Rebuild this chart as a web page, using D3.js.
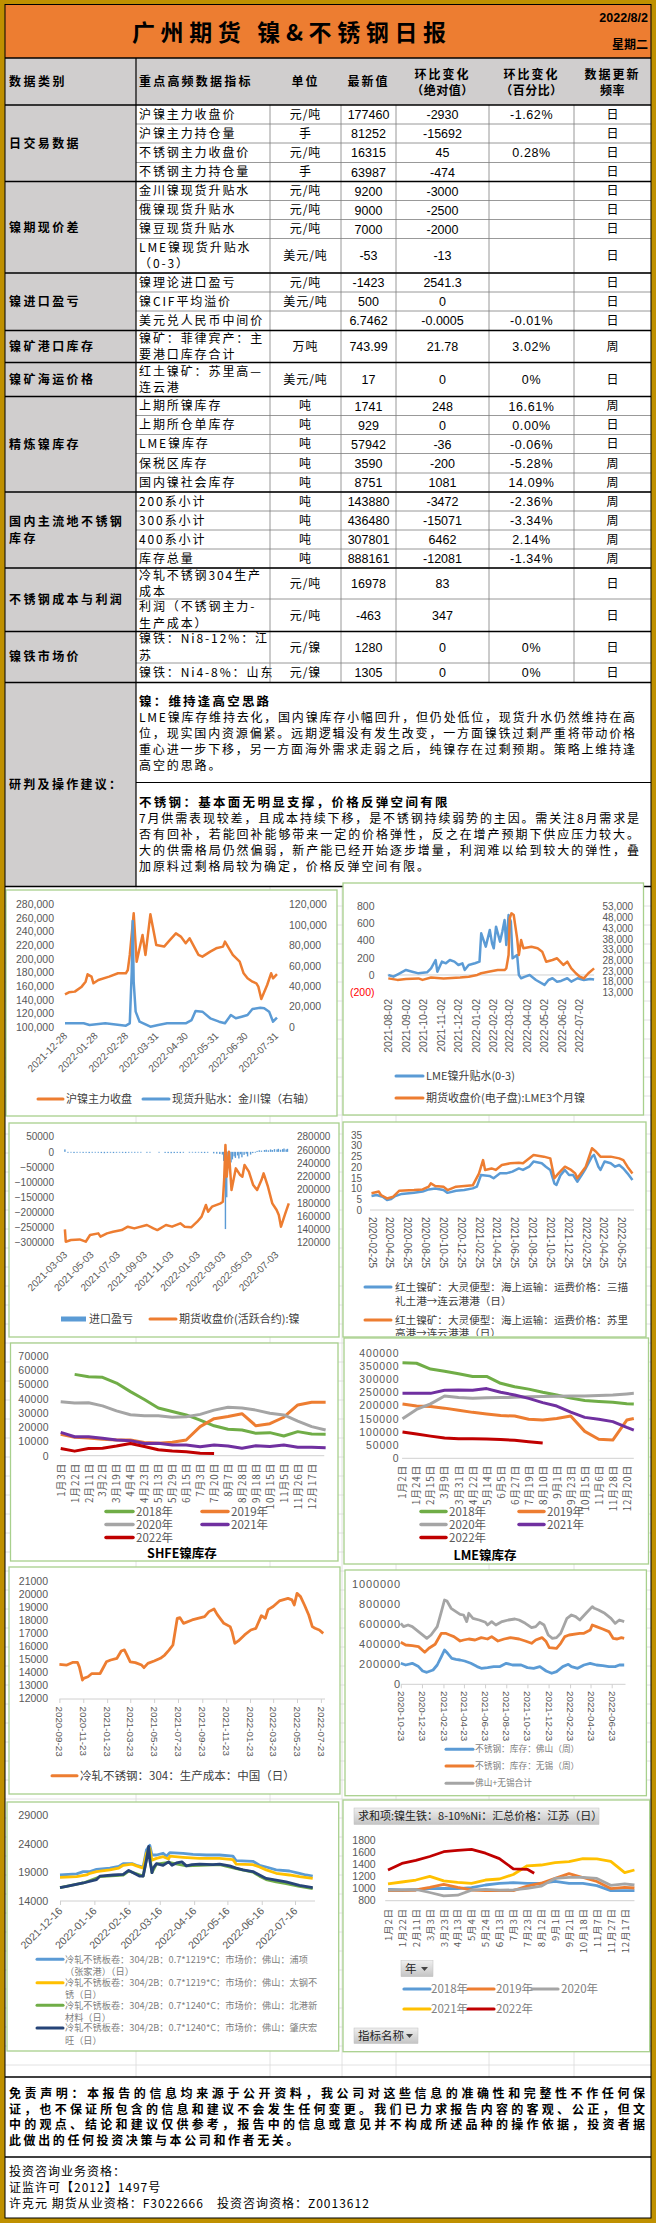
<!DOCTYPE html>
<html><head><meta charset="utf-8">
<script src="https://cdn.jsdelivr.net/npm/d3@7/dist/d3.min.js"></script>
<style>html,body{margin:0;padding:0;background:#fff}svg{display:block}</style>
</head><body>
<svg id="c" width="656" height="2223" xmlns="http://www.w3.org/2000/svg"></svg>
<script>
// ===================== DATA =====================
const reportTitle = "广州期货  镍&不锈钢日报";
const reportDate = "2022/8/2", reportWeekday = "星期二";
const tblHead = [["数据类别"],["重点高频数据指标"],["单位"],["最新值"],["环比变化","（绝对值）"],["环比变化","（百分比）"],["数据更新","频率"]];
const tblGroupNames = [["日交易数据"],["镍期现价差"],["镍进口盈亏"],["镍矿港口库存"],["镍矿海运价格"],["精炼镍库存"],["国内主流地不锈钢","库存"],["不锈钢成本与利润"],["镍铁市场价"]];
const tblGroupSize = [4,4,3,1,1,5,4,2,2];
const tblNames = [["沪镍主力收盘价"],["沪镍主力持仓量"],["不锈钢主力收盘价"],["不锈钢主力持仓量"],["金川镍现货升贴水"],["俄镍现货升贴水"],["镍豆现货升贴水"],["LME镍现货升贴水","（0-3）"],["镍理论进口盈亏"],["镍CIF平均溢价"],["美元兑人民币中间价"],["镍矿：菲律宾产：主","要港口库存合计"],["红土镍矿：苏里高—","连云港"],["上期所镍库存"],["上期所仓单库存"],["LME镍库存"],["保税区库存"],["国内镍社会库存"],["200系小计"],["300系小计"],["400系小计"],["库存总量"],["冷轧不锈钢304生产","成本"],["利润（不锈钢主力-","生产成本）"],["镍铁：Ni8-12%：江","苏"],["镍铁：Ni4-8%：山东"]];
const tblUnits = ["元/吨","手","元/吨","手","元/吨","元/吨","元/吨","美元/吨","元/吨","美元/吨","","万吨","美元/吨","吨","吨","吨","吨","吨","吨","吨","吨","吨","元/吨","元/吨","元/镍","元/镍"];
const tblLatest = ["177460","81252","16315","63987","9200","9000","7000","-53","-1423","500","6.7462","743.99","17","1741","929","57942","3590","8751","143880","436480","307801","888161","16978","-463","1280","1305"];
const tblAbs = ["-2930","-15692","45","-474","-3000","-2500","-2000","-13","2541.3","0","-0.0005","21.78","0","248","0","-36","-200","1081","-3472","-15071","6462","-12081","83","347","0","0"];
const tblPct = ["-1.62%","","0.28%","","","","","","","","-0.01%","3.02%","0%","16.61%","0.00%","-0.06%","-5.28%","14.09%","-2.36%","-3.34%","2.14%","-1.34%","","","0%","0%"];
const tblFreq = ["日","日","日","日","日","日","日","日","日","日","日","周","日","周","日","日","周","周","周","周","周","周","日","日","日","日"];

const adviceLabel = "研判及操作建议：";
const niTitle = "镍：维持逢高空思路";
const niLines = ["LME镍库存维持去化，国内镍库存小幅回升，但仍处低位，现货升水仍然维持在高",
 "位，现实国内资源偏紧。远期逻辑没有发生改变，一方面镍铁过剩严重将带动价格",
 "重心进一步下移，另一方面海外需求走弱之后，纯镍存在过剩预期。策略上维持逢",
 "高空的思路。"];
const ssTitle = "不锈钢：基本面无明显支撑，价格反弹空间有限";
const ssLines = ["7月供需表现较差，且成本持续下移，是不锈钢持续弱势的主因。需关注8月需求是",
 "否有回补，若能回补能够带来一定的价格弹性，反之在增产预期下供应压力较大。",
 "大的供需格局仍然偏弱，新产能已经开始逐步增量，利润难以给到较大的弹性，叠",
 "加原料过剩格局较为确定，价格反弹空间有限。"];

// Chart 1
const c1Ticks = ["2021-12-28","2022-01-28","2022-02-28","2022-03-31","2022-04-30","2022-05-31","2022-06-30","2022-07-31"];
const c1Price = [["2021-12-28",148000],["2022-01-01",150900],["2022-01-07",151900],["2022-01-14",159200],["2022-01-18",166500],["2022-01-20",177300],["2022-01-24",173900],["2022-01-26",164100],["2022-01-31",169000],["2022-02-11",173900],["2022-02-20",178800],["2022-02-28",178800],["2022-03-02",183600],["2022-03-04",205700],["2022-03-08",266800],["2022-03-11",195900],["2022-03-17",235000],["2022-03-20",205700],["2022-03-25",265300],["2022-03-31",220300],["2022-04-08",218000],["2022-04-14",227700],["2022-04-20",237400],["2022-04-25",232600],["2022-04-30",222800],["2022-05-04",230100],["2022-05-13",205700],["2022-05-17",203200],["2022-05-25",210500],["2022-05-31",215400],["2022-06-07",217900],["2022-06-09",225200],["2022-06-17",205700],["2022-06-24",195900],["2022-06-28",178800],["2022-07-02",171400],["2022-07-07",166500],["2022-07-11",164100],["2022-07-13",159200],["2022-07-16",141100],["2022-07-22",161600],["2022-07-26",178800],["2022-07-28",171400],["2022-08-01",177460]];
const c1Spot = [["2021-12-28",3600],["2022-01-16",3600],["2022-01-22",2000],["2022-02-07",3600],["2022-02-28",1300],["2022-03-04",3600],["2022-03-06",54000],["2022-03-07",103700],["2022-03-08",44000],["2022-03-10",15000],["2022-03-14",5200],["2022-03-25",300],["2022-04-02",2000],["2022-04-11",3600],["2022-04-30",3600],["2022-05-06",6800],["2022-05-10",15700],["2022-05-17",15000],["2022-05-25",8500],["2022-06-03",5200],["2022-06-09",3600],["2022-06-15",11700],["2022-06-20",8500],["2022-06-26",10100],["2022-07-02",11700],["2022-07-07",17600],["2022-07-15",18900],["2022-07-19",18300],["2022-07-24",15000],["2022-07-28",5200],["2022-08-01",9200]];

// Chart 2
const c2Ticks = ["2021-08-02","2021-09-02","2021-10-02","2021-11-02","2021-12-02","2022-01-02","2022-02-02","2022-03-02","2022-04-02","2022-05-02","2022-06-02","2022-07-02"];
const c2Spread = [["2021-08-02",0],["2021-08-11",-19],["2021-08-22",19],["2021-09-02",58],["2021-09-13",38],["2021-09-24",19],["2021-10-09",31],["2021-10-16",77],["2021-10-24",173],["2021-10-27",38],["2021-11-04",154],["2021-11-11",135],["2021-11-18",173],["2021-11-26",154],["2021-12-03",115],["2021-12-10",135],["2021-12-14",58],["2021-12-21",115],["2022-01-01",135],["2022-01-09",154],["2022-01-12",481],["2022-01-20",327],["2022-01-27",519],["2022-01-31",365],["2022-02-03",308],["2022-02-07",558],["2022-02-14",385],["2022-02-18",500],["2022-02-22",635],["2022-02-25",346],["2022-03-01",692],["2022-03-05",615],["2022-03-08",192],["2022-03-16",231],["2022-03-19",0],["2022-03-23",-38],["2022-03-30",-19],["2022-04-07",0],["2022-04-18",-58],["2022-05-03",-115],["2022-05-10",-58],["2022-05-17",-38],["2022-05-25",-77],["2022-06-01",-69],["2022-06-12",-38],["2022-06-19",-77],["2022-06-30",-38],["2022-07-11",-58],["2022-07-22",-46],["2022-07-29",-53]];
const c2Lme3m = [["2021-08-02",19500],["2021-08-18",18800],["2021-09-02",19200],["2021-09-24",19500],["2021-10-01",18800],["2021-10-16",19900],["2021-11-07",19500],["2021-12-06",19900],["2021-12-21",20300],["2022-01-05",21100],["2022-01-12",21900],["2022-01-27",22700],["2022-02-10",23400],["2022-02-22",23400],["2022-02-25",24200],["2022-03-01",30400],["2022-03-03",47600],["2022-03-06",49900],["2022-03-10",49100],["2022-03-16",38200],["2022-03-19",30400],["2022-03-23",37400],["2022-03-27",33600],["2022-04-10",34300],["2022-04-21",33600],["2022-04-29",32000],["2022-05-06",27300],["2022-05-17",28100],["2022-05-25",28900],["2022-06-05",25800],["2022-06-12",27300],["2022-06-19",24200],["2022-06-27",21900],["2022-07-04",20300],["2022-07-11",19500],["2022-07-19",21900],["2022-07-29",24200]];

// Chart 3
const c3Ticks = ["2021-03-03","2021-05-03","2021-07-03","2021-09-03","2021-11-03","2022-01-03","2022-03-03","2022-05-03","2022-07-03"];
const c3Import = [["2021-03-03",8000],["2021-03-10",-3000],["2021-03-17",-2000],["2021-03-24",-4000],["2021-03-31",-3000],["2021-04-07",-2500],["2021-04-14",-3500],["2021-04-21",-3000],["2021-04-28",-4000],["2021-05-05",-3000],["2021-05-12",-2000],["2021-05-19",-3000],["2021-05-26",-4000],["2021-06-02",-4500],["2021-06-09",-3500],["2021-06-16",-3000],["2021-06-23",-4000],["2021-06-30",-3000],["2021-07-07",-2500],["2021-07-14",-3500],["2021-07-21",-4000],["2021-07-28",-3000],["2021-08-04",-2000],["2021-08-11",-3000],["2021-08-18",-2500],["2021-08-25",-1500],["2021-09-08",-3000],["2021-09-15",-2000],["2021-10-06",-1500],["2021-10-20",-3500],["2021-10-27",-4000],["2021-11-03",-4500],["2021-11-10",-4000],["2021-11-17",-3500],["2021-11-24",-4000],["2021-12-01",-3000],["2021-12-15",-2000],["2021-12-22",-2500],["2021-12-29",-3000],["2022-01-05",-2000],["2022-01-12",-3500],["2022-01-19",-4000],["2022-01-26",-3000],["2022-02-09",-5000],["2022-02-16",-6000],["2022-02-23",-7000],["2022-03-01",-9000],["2022-03-04",-30000],["2022-03-07",-80000],["2022-03-08",-255000],["2022-03-09",-50000],["2022-03-11",-150000],["2022-03-14",-20000],["2022-03-17",-10000],["2022-03-21",-35000],["2022-03-24",-25000],["2022-03-28",-15000],["2022-03-31",-20000],["2022-04-05",-12000],["2022-04-08",-22000],["2022-04-12",-8000],["2022-04-15",-18000],["2022-04-20",-10000],["2022-04-25",-6000],["2022-04-28",-15000],["2022-05-05",-9000],["2022-05-10",-4000],["2022-05-16",-2000],["2022-05-20",3000],["2022-05-25",5000],["2022-05-30",4000],["2022-06-06",6000],["2022-06-10",7000],["2022-06-15",5000],["2022-06-20",8000],["2022-06-24",6000],["2022-06-29",9000],["2022-07-05",8000],["2022-07-08",10000],["2022-07-13",7000],["2022-07-18",9000],["2022-07-21",11000],["2022-07-26",8000],["2022-07-29",10000]];
const c3Price = [["2021-03-03",140100],["2021-03-05",121500],["2021-03-17",124000],["2021-04-06",125000],["2021-04-20",121500],["2021-04-30",131600],["2021-05-19",134100],["2021-05-24",129100],["2021-06-08",134100],["2021-06-22",136600],["2021-07-12",139100],["2021-07-26",144200],["2021-08-10",141600],["2021-09-08",146700],["2021-09-23",141600],["2021-10-02",139100],["2021-10-22",146700],["2021-11-05",144200],["2021-11-24",149200],["2021-12-04",144200],["2021-12-19",143200],["2022-01-02",151700],["2022-01-12",159300],["2022-01-22",176900],["2022-01-27",166800],["2022-02-05",174400],["2022-02-25",179400],["2022-03-02",181900],["2022-03-05",214600],["2022-03-08",267400],["2022-03-11",219600],["2022-03-16",257400],["2022-03-22",199500],["2022-04-01",232200],["2022-04-11",222100],["2022-04-16",219600],["2022-04-21",237200],["2022-05-01",227200],["2022-05-11",207000],["2022-05-20",199500],["2022-05-30",214600],["2022-06-04",224700],["2022-06-14",204500],["2022-06-24",179400],["2022-07-04",169300],["2022-07-09",161800],["2022-07-14",144200],["2022-07-24",164300],["2022-08-01",179400]];

// Chart 4
const c4Ticks = ["2020-02-25","2020-04-25","2020-06-25","2020-08-25","2020-10-25","2020-12-25","2021-02-25","2021-04-25","2021-06-25","2021-08-25","2021-10-25","2021-12-25","2022-02-25","2022-04-25","2022-06-25"];
const c4Sanmu = [["2020-02-25",6.5],["2020-03-13",7.0],["2020-04-03",6.2],["2020-04-18",4.7],["2020-05-02",5.1],["2020-05-16",6.5],["2020-06-07",7.5],["2020-07-19",8.1],["2020-08-17",8.6],["2020-09-07",9.6],["2020-09-29",10.0],["2020-10-27",9.3],["2020-11-10",8.0],["2020-12-09",9.0],["2021-01-06",9.3],["2021-02-04",10.1],["2021-02-18",10.9],["2021-03-04",16.3],["2021-04-02",15.9],["2021-04-16",14.8],["2021-05-08",17.1],["2021-05-29",17.1],["2021-06-19",17.9],["2021-07-11",19.4],["2021-07-25",18.7],["2021-08-15",20.2],["2021-08-30",22.6],["2021-09-27",21.8],["2021-10-11",20.2],["2021-10-26",18.7],["2021-11-09",12.4],["2021-11-16",11.7],["2021-11-30",16.3],["2021-12-15",18.7],["2021-12-29",16.3],["2022-01-12",16.3],["2022-01-26",13.2],["2022-02-10",16.3],["2022-02-21",18.7],["2022-03-17",24.9],["2022-03-24",25.7],["2022-04-08",20.2],["2022-04-15",18.7],["2022-04-29",22.6],["2022-05-20",21.8],["2022-06-04",20.2],["2022-06-18",21.0],["2022-07-02",19.4],["2022-07-16",17.1],["2022-08-02",14.0]];
const c4Surigao = [["2020-02-25",7.8],["2020-03-21",8.6],["2020-03-28",7.0],["2020-04-18",5.4],["2020-05-09",6.2],["2020-05-30",9.0],["2020-07-19",9.3],["2020-08-17",9.6],["2020-09-07",10.9],["2020-09-14",12.4],["2020-09-29",11.2],["2020-10-27",10.9],["2020-11-10",9.3],["2020-12-09",10.9],["2021-02-04",11.5],["2021-02-25",17.0],["2021-03-11",23.3],["2021-03-18",18.7],["2021-04-09",19.4],["2021-04-23",18.7],["2021-05-14",21.0],["2021-06-12",21.8],["2021-07-11",22.0],["2021-07-25",21.8],["2021-08-30",25.7],["2021-10-04",24.9],["2021-10-26",24.1],["2021-11-09",14.8],["2021-11-23",17.1],["2021-12-15",20.2],["2022-01-05",18.7],["2022-01-19",17.1],["2022-01-26",14.8],["2022-02-24",20.2],["2022-03-17",28.8],["2022-03-31",27.2],["2022-04-15",24.9],["2022-05-20",24.9],["2022-06-18",24.1],["2022-07-02",23.3],["2022-07-16",20.2],["2022-08-02",17.0]];
const c4Legend = [["红土镍矿：大灵便型：海上运输：运费价格：三描","礼土港→连云港港（日）"],["红土镍矿：大灵便型：海上运输：运费价格：苏里","高港→连云港港（日）"]];

// Chart 5 SHFE
const shfeCats = ["1月3日","1月22日","2月11日","3月2日","3月19日","4月4日","4月23日","5月13日","5月29日","6月15日","7月3日","7月20日","8月7日","8月28日","9月18日","10月15日","11月5日","11月26日","12月17日"];
const shfeIdx = [0,1,2,3,4,5,6,7,8,9,10,11,12,13,14,15,16,17,18,19];
const shfe2018 = [null,57100,55500,55000,51000,45000,39500,33500,31000,28600,25000,21000,18600,18000,15700,16200,13800,16900,15200,15000];
const shfe2019 = [15000,13000,12500,11500,11000,11000,9200,8700,9400,11000,20400,26000,27500,29500,21000,22500,27000,35600,37500,37500];
const shfe2020 = [37900,37000,37200,35000,31500,28800,28000,28000,27000,27300,29000,32000,34000,33500,32000,29800,28600,24300,20400,18000];
const shfe2021 = [16400,13300,13300,12200,11000,10500,8500,8700,7500,7500,6300,7500,6800,5200,7000,6500,7500,5900,5900,5500];
const shfe2022 = [5000,3200,5000,5300,6800,8600,6500,4200,3300,2800,1800,1600];

// Chart 6 LME
const lmeCats = ["1月2日","1月24日","2月15日","3月9日","3月31日","4月22日","5月14日","6月5日","6月27日","7月19日","8月10日","9月1日","9月23日","10月15日","11月6日","11月28日","12月20日"];
const lmeIdx = [0,1,2,3,4,5,6,7,8,9,10,11,12,13,14,15,16,16.5];
const lme2018 = [362000,360000,338000,330000,320000,310000,310000,284000,271000,262000,250000,240000,228000,219000,215000,212000,207000,206000];
const lme2019 = [206000,198000,196000,190000,182000,174000,168000,162000,160000,148000,145000,151000,160000,102000,72000,69000,145000,151000];
const lme2020 = [150000,185000,206000,236000,230000,227000,229000,230000,231000,233000,234000,235000,236000,236000,238000,240000,244000,246000];
const lme2021 = [246000,246000,246000,258000,259000,258000,264000,250000,240000,227000,211000,198000,175000,155000,148000,139000,117000,107000];
const lme2022 = [100000,92000,84000,77000,74000,74000,73000,71000,68000,63000,58000];

// Chart 7
const c7Ticks = ["2020-09-23","2020-11-23","2021-01-23","2021-03-23","2021-05-23","2021-07-23","2021-09-23","2021-11-23","2022-01-23","2022-03-23","2022-05-23","2022-07-23"];
const c7Cost = [["2020-09-23",14600],["2020-10-12",14550],["2020-10-28",14760],["2020-11-08",14760],["2020-11-13",14400],["2020-11-21",13400],["2020-11-24",13530],["2020-12-05",13650],["2020-12-15",13900],["2021-01-05",13900],["2021-01-14",14400],["2021-01-21",14800],["2021-02-01",14940],["2021-02-17",15070],["2021-02-28",15630],["2021-03-08",15710],["2021-03-15",15300],["2021-03-23",14800],["2021-04-05",14740],["2021-04-21",14550],["2021-04-27",14350],["2021-05-07",14680],["2021-05-23",14860],["2021-06-08",15070],["2021-06-19",15320],["2021-06-30",15700],["2021-07-10",16090],["2021-07-21",18130],["2021-07-28",18190],["2021-08-06",17750],["2021-08-28",18010],["2021-09-19",18190],["2021-09-29",18270],["2021-10-10",18650],["2021-10-23",18850],["2021-10-31",18440],["2021-11-17",17750],["2021-12-03",17500],["2021-12-08",17110],["2021-12-15",16220],["2021-12-24",16400],["2022-01-09",16860],["2022-01-25",17240],["2022-02-07",17370],["2022-02-21",18340],["2022-03-03",18140],["2022-03-10",18800],["2022-03-23",19040],["2022-04-08",19470],["2022-04-30",19670],["2022-05-10",19550],["2022-05-16",19160],["2022-05-23",20050],["2022-06-01",19800],["2022-06-11",19160],["2022-06-22",18390],["2022-07-01",17500],["2022-07-08",17370],["2022-07-19",17240],["2022-07-29",16978]];

// Chart 8
const c8Ticks = ["2020-10-23","2020-12-23","2021-02-23","2021-04-23","2021-06-23","2021-08-23","2021-10-23","2021-12-23","2022-02-23","2022-04-23","2022-06-23"];
const c8Foshan = [["2020-10-23",210000],["2020-11-06",193000],["2020-11-25",210000],["2020-12-13",177000],["2020-12-25",133000],["2021-01-06",120000],["2021-01-24",143000],["2021-02-05",193000],["2021-02-17",277000],["2021-02-26",343000],["2021-03-07",310000],["2021-03-19",260000],["2021-03-31",250000],["2021-04-12",243000],["2021-04-25",233000],["2021-05-13",210000],["2021-05-31",177000],["2021-06-12",160000],["2021-06-30",167000],["2021-07-18",177000],["2021-08-05",177000],["2021-08-23",210000],["2021-09-10",193000],["2021-10-05",193000],["2021-10-23",167000],["2021-11-10",160000],["2021-11-28",177000],["2021-12-16",133000],["2022-01-01",110000],["2022-01-15",127000],["2022-02-02",177000],["2022-02-18",200000],["2022-02-27",177000],["2022-03-17",160000],["2022-04-04",193000],["2022-04-22",210000],["2022-05-10",193000],["2022-05-28",187000],["2022-06-15",177000],["2022-07-03",177000],["2022-07-15",193000],["2022-07-29",193000]];
const c8Wuxi = [["2020-10-23",420000],["2020-11-06",393000],["2020-11-25",387000],["2020-12-13",377000],["2020-12-31",320000],["2021-01-12",360000],["2021-01-30",400000],["2021-02-17",510000],["2021-03-01",510000],["2021-03-13",493000],["2021-03-25",477000],["2021-04-12",433000],["2021-04-22",443000],["2021-05-07",453000],["2021-05-25",443000],["2021-06-12",467000],["2021-06-30",453000],["2021-07-12",477000],["2021-07-30",433000],["2021-08-17",453000],["2021-09-04",467000],["2021-09-29",453000],["2021-10-17",433000],["2021-11-04",410000],["2021-11-16",443000],["2021-12-04",467000],["2021-12-16",427000],["2021-12-25",367000],["2022-01-15",360000],["2022-01-27",410000],["2022-02-08",477000],["2022-02-20",493000],["2022-03-23",510000],["2022-04-04",510000],["2022-04-22",543000],["2022-04-28",593000],["2022-05-10",577000],["2022-05-28",553000],["2022-06-15",527000],["2022-06-27",460000],["2022-07-09",453000],["2022-07-21",467000],["2022-07-29",460000]];
const c8Total = [["2020-10-23",610000],["2020-10-31",577000],["2020-11-13",593000],["2020-11-25",577000],["2020-12-13",527000],["2020-12-31",477000],["2021-01-06",460000],["2021-01-18",493000],["2021-02-05",577000],["2021-02-17",727000],["2021-02-26",843000],["2021-03-05",833000],["2021-03-17",760000],["2021-03-31",727000],["2021-04-12",700000],["2021-04-22",693000],["2021-05-01",627000],["2021-05-07",710000],["2021-05-19",660000],["2021-06-06",643000],["2021-06-24",620000],["2021-06-30",593000],["2021-07-12",627000],["2021-07-24",593000],["2021-08-11",627000],["2021-08-29",643000],["2021-09-17",653000],["2021-09-29",643000],["2021-10-17",610000],["2021-11-04",567000],["2021-11-16",577000],["2021-11-28",620000],["2021-12-10",593000],["2021-12-22",493000],["2022-01-03",460000],["2022-01-15",467000],["2022-01-27",510000],["2022-02-14",660000],["2022-02-27",693000],["2022-03-11",677000],["2022-03-23",643000],["2022-04-10",710000],["2022-04-28",777000],["2022-05-04",760000],["2022-05-16",743000],["2022-06-03",710000],["2022-06-21",660000],["2022-07-03",610000],["2022-07-15",643000],["2022-07-29",627000]];
const c8Legend = ["不锈钢：库存：佛山（周）","不锈钢：库存：无锡（周）","佛山+无锡合计"];

// Chart 9
const c9Ticks = ["2021-12-16","2022-01-16","2022-02-16","2022-03-16","2022-04-16","2022-05-16","2022-06-16","2022-07-16"];
const c9Posco = [["2021-12-16",18500],["2021-12-31",18700],["2022-01-06",19100],["2022-01-12",19100],["2022-01-18",19500],["2022-01-30",19700],["2022-02-07",20000],["2022-02-11",20500],["2022-02-19",20500],["2022-02-23",20200],["2022-03-01",19900],["2022-03-04",22900],["2022-03-07",23700],["2022-03-09",22000],["2022-03-13",22000],["2022-03-19",22300],["2022-03-22",21800],["2022-03-25",22400],["2022-04-06",22300],["2022-04-15",22100],["2022-04-27",22000],["2022-05-09",22000],["2022-05-21",21800],["2022-05-24",21000],["2022-06-08",20900],["2022-06-14",20200],["2022-06-20",19900],["2022-06-29",19400],["2022-07-11",19200],["2022-07-20",18800],["2022-07-26",18500],["2022-08-01",18300]];
const c9Tisco = [["2021-12-16",18100],["2021-12-31",18200],["2022-01-09",18500],["2022-01-12",18800],["2022-01-18",19100],["2022-01-30",19400],["2022-02-07",19700],["2022-02-11",20200],["2022-02-19",20400],["2022-02-23",20100],["2022-03-01",19700],["2022-03-04",22300],["2022-03-07",23200],["2022-03-09",21100],["2022-03-13",21400],["2022-03-19",21700],["2022-03-24",21300],["2022-03-25",21800],["2022-04-06",21600],["2022-04-21",21400],["2022-05-09",21400],["2022-05-21",21200],["2022-05-24",20400],["2022-06-08",20300],["2022-06-14",19900],["2022-06-20",19400],["2022-06-29",18800],["2022-07-11",18500],["2022-07-20",18200],["2022-08-01",17900]];
const c9Beigang = [["2021-12-16",16300],["2022-01-06",17100],["2022-01-21",18200],["2022-02-11",18500],["2022-02-16",19200],["2022-03-01",18300],["2022-03-06",23300],["2022-03-09",18900],["2022-03-13",20400],["2022-03-24",20700],["2022-04-09",20100],["2022-05-09",20300],["2022-05-24",19600],["2022-06-08",19000],["2022-06-14",18300],["2022-06-20",17700],["2022-06-29",17300],["2022-07-08",17000],["2022-07-20",16500],["2022-08-01",16100]];
const c9Hongwang = [["2021-12-16",16300],["2021-12-22",16500],["2022-01-06",17100],["2022-01-18",17700],["2022-01-21",18300],["2022-02-02",18500],["2022-02-11",18600],["2022-02-16",19300],["2022-02-20",18900],["2022-02-26",18300],["2022-03-01",18300],["2022-03-04",21100],["2022-03-06",23500],["2022-03-07",21100],["2022-03-09",18900],["2022-03-10",19700],["2022-03-13",20500],["2022-03-19",20200],["2022-03-24",20800],["2022-03-27",20200],["2022-03-31",20600],["2022-04-05",20800],["2022-04-09",20100],["2022-04-14",20300],["2022-04-21",20400],["2022-05-03",20300],["2022-05-09",20400],["2022-05-18",20100],["2022-05-24",19700],["2022-05-30",19400],["2022-06-08",19100],["2022-06-14",18500],["2022-06-20",17900],["2022-06-29",17600],["2022-07-08",17300],["2022-07-20",16700],["2022-08-01",16300]];
const c9Legend = [["冷轧不锈板卷：304/2B：0.7*1219*C：市场价：佛山：浦项","（张家港）（日）"],["冷轧不锈板卷：304/2B：0.7*1219*C：市场价：佛山：太钢不","锈（日）"],["冷轧不锈板卷：304/2B：0.7*1240*C：市场价：佛山：北港新","材料（日）"],["冷轧不锈板卷：304/2B：0.7*1240*C：市场价：佛山：肇庆宏","旺（日）"]];

// Chart 10 NPI
const npiTitle = "求和项:镍生铁：8-10%Ni：汇总价格：江苏（日）";
const npiCats = ["1月2日","1月22日","2月11日","3月3日","3月23日","4月13日","5月4日","5月24日","6月13日","7月3日","7月23日","8月12日","9月1日","9月21日","10月18日","11月7日","11月27日","12月17日"];
const npiIdx = [0,1,2,3,4,5,6,7,8,9,10,11,12,13,14,15,16,17,17.7];
const npi2018 = [978,970,967,990,994,990,1005,1050,1078,1089,1078,1078,1110,1078,1078,1040,956,956,956];
const npi2019 = [956,956,967,1010,1060,1010,967,956,956,956,1030,1080,1160,1240,1175,1110,990,1011,1000];
const npi2020 = [967,967,975,925,870,880,965,978,965,967,994,1030,1160,1178,1178,1160,1045,1070,1050];
const npi2021 = [1067,1100,1133,1195,1120,1095,1078,1133,1150,1225,1370,1383,1422,1440,1490,1485,1445,1256,1300];
const npi2022 = [1300,1410,1460,1525,1605,1628,1644,1580,1490,1320,1311,1245];
const npi2022Idx = [0,1,2,3,4,5,6,7,8,9,10,10.5];

const disclaimer = ["免责声明：本报告的信息均来源于公开资料，我公司对这些信息的准确性和完整性不作任何保",
 "证，也不保证所包含的信息和建议不会发生任何变更。我们已力求报告内容的客观、公正，但文",
 "中的观点、结论和建议仅供参考，报告中的信息或意见并不构成所述品种的操作依据，投资者据",
 "此做出的任何投资决策与本公司和作者无关。"];
const license = ["投资咨询业务资格：","证监许可【2012】1497号","许克元 期货从业资格：F3022666　投资咨询资格：Z0013612"];

// ===================== DRAW =====================
const CJK = "'Noto Sans CJK SC','Noto Sans CJK JP',sans-serif";
const LAT = "'Liberation Sans',Arial,sans-serif";
const AXC = "#595959", LEGC = "#404040";
const BLUE="#5b9bd5",ORANGE="#ed7d31",GRAY="#a5a5a5",YELLOW="#ffc000",GREEN="#70ad47",PURPLE="#7030a0",RED="#c00000",NAVY="#264478";
const parse = d3.timeParse("%Y-%m-%d");
const fmtDate = d3.timeFormat("%Y-%m-%d");
const svg = d3.select("#c");

function T(g,x,y,s,o={}){
  const t=g.append("text").attr("x",x).attr("y",y).attr("dy","0.36em").text(s)
    .attr("font-family",o.ff||CJK).attr("font-size",o.fs||12).attr("fill",o.fill||"#000");
  if(o.fw) t.attr("font-weight",o.fw);
  if(o.anchor) t.attr("text-anchor",o.anchor);
  if(o.ls!=null) t.style("letter-spacing",o.ls+"px");
  if(o.tl) t.attr("textLength",o.tl).attr("lengthAdjust","spacing");
  return t;
}
function L(g,x1,y1,x2,y2,c,w){return g.append("line").attr("x1",x1).attr("y1",y1).attr("x2",x2).attr("y2",y2).attr("stroke",c).attr("stroke-width",w);}
function box(g,x0,y0,x1,y1){g.append("rect").attr("x",x0).attr("y",y0).attr("width",x1-x0).attr("height",y1-y0).attr("fill","#fff").attr("stroke","#a8d08d").attr("stroke-width",1.3);}
function yAxis(g,scale,ticks,x,side,fmt,fs,ls){
  const ax=(side==="left"?d3.axisLeft(scale):d3.axisRight(scale)).tickValues(ticks).tickSize(0).tickPadding(0).tickFormat(fmt);
  const a=g.append("g").attr("transform",`translate(${x},0)`).call(ax);
  a.select(".domain").remove();
  a.selectAll("text").attr("font-family",LAT).attr("font-size",fs||10).attr("fill",AXC);
  if(ls) a.selectAll("text").style("letter-spacing",ls+"px");
  return a;
}
function xAxis(g,scale,ticks,y,rot,fmt,fs,ff,ls){
  const ax=d3.axisBottom(scale).tickValues(ticks).tickSize(0).tickPadding(0).tickFormat(fmt);
  const a=g.append("g").attr("transform",`translate(0,${y})`).call(ax);
  a.select(".domain").remove();
  a.selectAll("text").attr("x",0).attr("y",0).attr("dy","0.35em")
    .attr("transform",`rotate(${rot})`).style("text-anchor",rot===90?"start":"end")
    .attr("font-family",ff||LAT).attr("font-size",fs||10).attr("fill",AXC);
  if(ls) a.selectAll("text").style("letter-spacing",ls+"px");
  return a;
}
function tline(g,data,x,y,color,w){
  g.append("path").datum(data).attr("d",d3.line().x(d=>x(parse(d[0]))).y(d=>y(d[1])))
   .attr("fill","none").attr("stroke",color).attr("stroke-width",w||2.5).attr("stroke-linejoin","round");
}
function iline(g,vals,idx,x,y,color,w){
  const pts=vals.map((v,i)=>[idx[i],v]).filter(d=>d[1]!=null);
  g.append("path").datum(pts).attr("d",d3.line().x(d=>x(d[0])).y(d=>y(d[1])))
   .attr("fill","none").attr("stroke",color).attr("stroke-width",w||2.5).attr("stroke-linejoin","round");
}
function leg(g,x0,x1,y,color,label,fs,fill,w,tx){
  L(g,x0,y,x1,y,color,w||3).attr("stroke-linecap","round");
  return T(g,tx!=null?tx:x1+3,y,label,{fs:fs||11,fill:fill||LEGC});
}

// ---------- background gridlines (chart area) ----------
const gGrid=svg.append("g");
for(let y=906;y<2077;y+=19) L(gGrid,5,y,651,y,"#dadada",0.8);
[136,270,342,396,489,574].forEach(x=>L(gGrid,x,886.5,x,2077,"#dadada",0.8));

// ---------- header & table ----------
const gT=svg.append("g");
gT.append("rect").attr("x",5).attr("y",4).attr("width",646).attr("height",54).attr("fill","#ed7d31");
T(gT,289,33,reportTitle,{fs:23,fw:700,anchor:"middle",tl:314});
T(gT,648,17,reportDate,{fs:12.5,fw:700,anchor:"end",ff:LAT});
T(gT,648,45,reportWeekday,{fs:12,fw:700,anchor:"end"});

gT.append("rect").attr("x",5).attr("y",58).attr("width",646).attr("height",47).attr("fill","#d0cece");
gT.append("rect").attr("x",5).attr("y",105).attr("width",131).attr("height",781.5).attr("fill","#d0cece");

const colC=[0,0,305.5,368.5,442.5,531.5,612.5];
const rowH=[19,19,19.5,19,19,19,19,34.5,19,19,19.5,32,34,19,19,19,19.5,19,19,19,19,19,31,32.5,31.5,19.5];
const rowY=[105]; rowH.forEach(h=>rowY.push(rowY[rowY.length-1]+h));

T(gT,9,82,tblHead[0][0],{fs:12,fw:700,ls:2.5});
T(gT,139,82,tblHead[1][0],{fs:12,fw:700,ls:2.2});
for(let c=2;c<7;c++){
  const h=tblHead[c];
  if(h.length===1) T(gT,colC[c],82,h[0],{fs:12,fw:700,anchor:"middle",ls:2});
  else {T(gT,colC[c],75,h[0],{fs:12,fw:700,anchor:"middle",ls:2});T(gT,colC[c],91,h[1],{fs:12,fw:700,anchor:"middle",ls:0.5});}
}
for(let i=0;i<tblNames.length;i++){
  const y0=rowY[i],y1=rowY[i+1],cy=(y0+y1)/2;
  const nm=tblNames[i];
  if(nm.length===1) T(gT,139,cy,nm[0],{fs:12,ls:1.9});
  else {T(gT,139,cy-8.3,nm[0],{fs:12,ls:1.9});T(gT,139,cy+8.3,nm[1],{fs:12,ls:1.9});}
  if(tblUnits[i]) T(gT,colC[2],cy,tblUnits[i],{fs:12,anchor:"middle",ls:1});
  T(gT,colC[3],cy,tblLatest[i],{fs:12.5,anchor:"middle",ff:LAT});
  T(gT,colC[4],cy,tblAbs[i],{fs:12.5,anchor:"middle",ff:LAT});
  if(tblPct[i]) T(gT,colC[5],cy,tblPct[i],{fs:12.5,anchor:"middle",ff:LAT,ls:0.6});
  T(gT,colC[6],cy,tblFreq[i],{fs:12,anchor:"middle"});
  if(i>0) L(gT,136,y0,651,y0,"#7f7f7f",0.8);
}
[270,341,396,489,574].forEach(x=>L(gT,x,105,x,rowY[rowY.length-1],"#7f7f7f",0.8));
let gi=0;
tblGroupNames.forEach((nm,k)=>{
  const y0=rowY[gi],y1=rowY[gi+tblGroupSize[k]],cy=(y0+y1)/2;
  if(nm.length===1) T(gT,9,cy,nm[0],{fs:12,fw:700,ls:2.4});
  else {T(gT,9,cy-8.8,nm[0],{fs:12,fw:700,ls:2.4});T(gT,9,cy+8.8,nm[1],{fs:12,fw:700,ls:2.4});}
  L(gT,5,y0,651,y0,"#000",1.4);
  gi+=tblGroupSize[k];
});
const tEnd=rowY[rowY.length-1];
L(gT,5,tEnd,651,tEnd,"#000",1.4);
L(gT,5,58,651,58,"#000",1.4);
L(gT,136,58,136,886.5,"#000",1.2);

T(gT,9,785,adviceLabel,{fs:12,fw:700,ls:2.3});
T(gT,139,701,niTitle,{fs:12.5,fw:700,ls:2.2});
niLines.forEach((s,i)=>T(gT,139,717.3+i*16.2,s,i<niLines.length-1?{fs:12,tl:496}:{fs:12,ls:1.9}));
L(gT,136,782.5,651,782.5,"#000",1.2);
T(gT,139,802.3,ssTitle,{fs:12.5,fw:700,ls:2.3});
ssLines.forEach((s,i)=>T(gT,139,818.5+i*16.2,s,i<ssLines.length-1?{fs:12,tl:500}:{fs:12,ls:1.9}));
L(gT,5,886.5,651,886.5,"#000",1.4);

// ---------- Chart 1 ----------
{
  const g=svg.append("g"); box(g,6,890,337,1116);
  const x=d3.scaleTime().domain([parse("2021-12-28"),parse("2022-07-31")]).range([65,276]);
  const yL=d3.scaleLinear().domain([100000,280000]).range([1027,904.3]);
  const yR=d3.scaleLinear().domain([0,120000]).range([1027,904.3]);
  yAxis(g,yL,d3.range(100000,280001,20000),54,"left",d3.format(","),10.5);
  yAxis(g,yR,d3.range(0,120001,20000),289,"right",d3.format(","),10.5);
  xAxis(g,x,c1Ticks.map(parse),1034,-45,fmtDate,10);
  tline(g,c1Price,x,yL,ORANGE,2.5);
  tline(g,c1Spot,x,yR,BLUE,2.5);
  leg(g,38,63,1099,ORANGE,"沪镍主力收盘",11);
  leg(g,143,169,1099,BLUE,"现货升贴水：金川镍（右轴）",11);
}
// ---------- Chart 2 ----------
{
  const g=svg.append("g"); box(g,343,883,643.5,1115);
  const x=d3.scaleTime().domain([parse("2021-08-02"),parse("2022-07-02")]).range([388.3,578.7]);
  const yL=d3.scaleLinear().domain([-200,800]).range([992.3,905.7]);
  const yR=d3.scaleLinear().domain([13000,53000]).range([992.3,906.7]);
  const a=yAxis(g,yL,[-200,0,200,400,600,800],374.5,"left",v=>v<0?`(${-v})`:v,10.5);
  a.selectAll("text").filter(d=>d<0).attr("fill","#ff0000");
  yAxis(g,yR,d3.range(13000,53001,5000),602.5,"right",d3.format(","),10);
  L(g,x(parse("2021-08-02"))-1,yL(0),x(parse("2022-07-29")),yL(0),"#d0d0d0",1);
  xAxis(g,x,c2Ticks.map(parse),999,-90,fmtDate,10.5);
  tline(g,c2Spread,x,yL,BLUE,2.5);
  tline(g,c2Lme3m,x,yR,ORANGE,2.5);
  leg(g,396,423,1076,BLUE,"LME镍升贴水(0-3)",11);
  leg(g,396,423,1098,ORANGE,"期货收盘价(电子盘):LME3个月镍",11);
}
// ---------- Chart 3 ----------
{
  const g=svg.append("g"); box(g,9,1123,339,1337);
  const x=d3.scaleTime().domain([parse("2021-03-03"),parse("2022-07-03")]).range([64.9,276.2]);
  const yL=d3.scaleLinear().domain([-300000,50000]).range([1242.7,1136.7]);
  const yR=d3.scaleLinear().domain([120000,280000]).range([1242.7,1136.7]);
  yAxis(g,yL,d3.range(-300000,50001,50000),54,"left",d3.format("d"),10);
  yAxis(g,yR,d3.range(120000,280001,20000),297,"right",d3.format("d"),10);
  xAxis(g,x,c3Ticks.map(parse),1253,-45,fmtDate,10);
  g.selectAll("rect.bar").data(c3Import).enter().append("rect").attr("class","bar")
    .attr("x",d=>x(parse(d[0]))-0.7).attr("width",1.4)
    .attr("y",d=>Math.min(yL(0),yL(d[1]))).attr("height",d=>Math.max(0.8,Math.abs(yL(d[1])-yL(0))))
    .attr("fill",BLUE);
  tline(g,c3Price,x,yR,ORANGE,2.5);
  g.append("rect").attr("x",61).attr("y",1316.5).attr("width",25).attr("height",5).attr("fill",BLUE);
  T(g,89,1319,"进口盈亏",{fs:11,fill:LEGC});
  leg(g,150,176,1319,ORANGE,"期货收盘价(活跃合约):镍",11);
}
// ---------- Chart 4 ----------
{
  const g=svg.append("g"); box(g,343,1122,646,1337);
  const x=d3.scaleTime().domain([parse("2020-02-25"),parse("2022-06-25")]).range([371.5,621.3]);
  const y=d3.scaleLinear().domain([0,35]).range([1210,1135]);
  yAxis(g,y,d3.range(0,36,5),362,"left",d3.format("d"),10);
  L(g,370,1210,634,1210,"#d0d0d0",1);
  xAxis(g,x,c4Ticks.map(parse),1217,90,fmtDate,10);
  tline(g,c4Sanmu,x,y,BLUE,2.5);
  tline(g,c4Surigao,x,y,ORANGE,2.5);
  svg.append("clipPath").attr("id","clip4").append("rect").attr("x",343).attr("y",1122).attr("width",303).attr("height",214);
  const lg=g.append("g").attr("clip-path","url(#clip4)");
  leg(lg,365,391,1287,BLUE,c4Legend[0][0],10.6,LEGC,3,395);
  T(lg,395,1300.7,c4Legend[0][1],{fs:10.6,fill:LEGC});
  leg(lg,365,391,1320,ORANGE,c4Legend[1][0],10.6,LEGC,3,395);
  T(lg,395,1333.5,c4Legend[1][1],{fs:10.6,fill:LEGC});
}
// ---------- Chart 5 SHFE ----------
{
  const g=svg.append("g"); box(g,10.5,1343,338,1561);
  const x=d3.scaleLinear().domain([0,18]).range([60.7,311.7]);
  const y=d3.scaleLinear().domain([0,70000]).range([1455.7,1356]);
  yAxis(g,y,d3.range(0,70001,10000),49,"left",d3.format("d"),10.5,0.3);
  L(g,x(-0.05),1455.7,x(18.9),1455.7,"#d0d0d0",1);
  xAxis(g,x,d3.range(19),1463,-90,i=>shfeCats[i],9.8,CJK,0.8);
  iline(g,shfe2018,shfeIdx,x,y,GREEN,3);
  iline(g,shfe2019,shfeIdx,x,y,ORANGE,3);
  iline(g,shfe2020,shfeIdx,x,y,GRAY,3);
  iline(g,shfe2021,shfeIdx,x,y,PURPLE,3);
  iline(g,shfe2022,shfeIdx,x,y,RED,3);
  leg(g,106,133,1511.5,GREEN,"2018年",11.5,AXC,3.5);
  leg(g,202,228,1511.5,ORANGE,"2019年",11.5,AXC,3.5);
  leg(g,106,133,1524.5,GRAY,"2020年",11.5,AXC,3.5);
  leg(g,202,228,1524.5,PURPLE,"2021年",11.5,AXC,3.5);
  leg(g,106,133,1537.5,RED,"2022年",11.5,AXC,3.5);
  T(g,182,1553.5,"SHFE镍库存",{fs:12.5,fw:700,anchor:"middle"});
}
// ---------- Chart 6 LME ----------
{
  const g=svg.append("g"); box(g,344,1338,648.5,1564);
  const x=d3.scaleLinear().domain([0,16]).range([402.5,626.8]);
  const y=d3.scaleLinear().domain([0,400000]).range([1458.3,1352.7]);
  yAxis(g,y,d3.range(0,400001,50000),399.6,"left",d3.format("d"),10.5,0.9);
  L(g,x(-0.03),1458.3,x(16.5),1458.3,"#d0d0d0",1);
  xAxis(g,x,d3.range(17),1465,-90,i=>lmeCats[i],9.8,CJK,0.8);
  iline(g,lme2018,lmeIdx,x,y,GREEN,3);
  iline(g,lme2019,lmeIdx,x,y,ORANGE,3);
  iline(g,lme2020,lmeIdx,x,y,GRAY,3);
  iline(g,lme2021,lmeIdx,x,y,PURPLE,3);
  iline(g,lme2022,lmeIdx,x,y,RED,3);
  leg(g,421,446,1511.5,GREEN,"2018年",11.5,AXC,3.5);
  leg(g,519,544,1511.5,ORANGE,"2019年",11.5,AXC,3.5);
  leg(g,421,446,1524.5,GRAY,"2020年",11.5,AXC,3.5);
  leg(g,519,544,1524.5,PURPLE,"2021年",11.5,AXC,3.5);
  leg(g,421,446,1537.5,RED,"2022年",11.5,AXC,3.5);
  T(g,485,1555,"LME镍库存",{fs:12.5,fw:700,anchor:"middle"});
}
// ---------- Chart 7 ----------
{
  const g=svg.append("g"); box(g,9,1567,340,1794);
  const x=d3.scaleTime().domain([parse("2020-09-23"),parse("2022-07-23")]).range([59.4,320.9]);
  const y=d3.scaleLinear().domain([12000,21000]).range([1698.3,1581]);
  yAxis(g,y,d3.range(12000,21001,1000),48,"left",d3.format("d"),10.5);
  L(g,x(parse("2020-09-23")),1699,325,1699,"#d0d0d0",1);
  g.append("g").attr("transform","translate(0,1699)").call(d3.axisBottom(x).tickValues(c7Ticks.map(parse)).tickSize(4).tickFormat(""))
    .call(a=>{a.select(".domain").remove();a.selectAll("line").attr("stroke","#d0d0d0");});
  xAxis(g,x,c7Ticks.map(parse),1706.5,90,fmtDate,9.8);
  tline(g,c7Cost,x,y,ORANGE,2.8);
  leg(g,52,77,1775.7,ORANGE,"冷轧不锈钢：304：生产成本：中国（日）",11.5);
}
// ---------- Chart 8 ----------
{
  const g=svg.append("g"); box(g,345,1570,646.4,1795.7);
  const x=d3.scaleTime().domain([parse("2020-10-23"),parse("2022-06-23")]).range([400.8,611.7]);
  const y=d3.scaleLinear().domain([0,1000000]).range([1684.3,1584.3]);
  yAxis(g,y,d3.range(0,1000001,200000),401,"left",d3.format("d"),11,0.9);
  L(g,400.8,1684.3,625.5,1684.3,"#d0d0d0",1);
  g.append("g").attr("transform","translate(0,1684.3)").call(d3.axisBottom(x).tickValues(c8Ticks.map(parse)).tickSize(4).tickFormat(""))
    .call(a=>{a.select(".domain").remove();a.selectAll("line").attr("stroke","#d0d0d0");});
  xAxis(g,x,c8Ticks.map(parse),1691,90,fmtDate,9.8);
  tline(g,c8Foshan,x,y,BLUE,2.8);
  tline(g,c8Wuxi,x,y,ORANGE,2.8);
  tline(g,c8Total,x,y,GRAY,2.8);
  leg(g,446,473,1749.3,BLUE,c8Legend[0],8.7,"#808080",3,475);
  leg(g,446,473,1766,ORANGE,c8Legend[1],8.7,"#808080",3,475);
  leg(g,446,473,1783.3,GRAY,c8Legend[2],8.7,"#808080",3,475);
}
// ---------- Chart 9 ----------
{
  const g=svg.append("g"); box(g,7,1802,338.7,2051);
  const x=d3.scaleTime().domain([parse("2021-12-16"),parse("2022-07-16")]).range([60,295]);
  const y=d3.scaleLinear().domain([14000,29000]).range([1900.7,1815]);
  yAxis(g,y,[14000,19000,24000,29000],48.3,"left",d3.format("d"),10.8);
  L(g,60,1901,315,1901,"#d0d0d0",1);
  g.append("g").attr("transform","translate(0,1901)").call(d3.axisBottom(x).tickValues(c9Ticks.map(parse)).tickSize(4).tickFormat(""))
    .call(a=>{a.select(".domain").remove();a.selectAll("line").attr("stroke","#d0d0d0");});
  xAxis(g,x,c9Ticks.map(parse),1909,-45,fmtDate,10.5);
  tline(g,c9Posco,x,y,BLUE,2.8);
  tline(g,c9Tisco,x,y,YELLOW,2.8);
  tline(g,c9Beigang,x,y,GREEN,2.8);
  tline(g,c9Hongwang,x,y,NAVY,2.8);
  const cols=[BLUE,YELLOW,GREEN,NAVY], ly=[1959.3,1982.7,2005.3,2028];
  c9Legend.forEach((t,i)=>{
    leg(g,37,63,ly[i],cols[i],t[0],9.2,"#808080",3,65);
    T(g,65,ly[i]+12.4,t[1],{fs:9.2,fill:"#808080"});
  });
}
// ---------- Chart 10 NPI ----------
{
  const g=svg.append("g"); box(g,343,1800,649.7,2051.7);
  const defs=svg.append("defs");
  const gr=defs.append("linearGradient").attr("id","btn").attr("x1",0).attr("y1",0).attr("x2",0).attr("y2",1);
  gr.append("stop").attr("offset","0%").attr("stop-color","#eeeeee");
  gr.append("stop").attr("offset","100%").attr("stop-color","#c4c4c4");
  g.append("rect").attr("x",354).attr("y",1808).attr("width",245).attr("height",16.5).attr("fill","url(#btn)").attr("stroke","#c0c0c0").attr("stroke-width",0.5);
  T(g,358,1816.3,npiTitle,{fs:11,fill:"#222"});
  const x=d3.scaleLinear().domain([0,17]).range([388,624.7]);
  const y=d3.scaleLinear().domain([800,1800]).range([1900,1840]);
  yAxis(g,y,d3.range(800,1801,200),375.7,"left",d3.format("d"),10.5);
  L(g,x(-0.2),1900.7,x(17.7),1900.7,"#d0d0d0",1);
  xAxis(g,x,d3.range(18),1908,-90,i=>npiCats[i],9.6,CJK,0.8);
  iline(g,npi2018,npiIdx,x,y,BLUE,2.8);
  iline(g,npi2019,npiIdx,x,y,ORANGE,2.8);
  iline(g,npi2020,npiIdx,x,y,GRAY,2.8);
  iline(g,npi2021,npiIdx,x,y,YELLOW,2.8);
  iline(g,npi2022,npi2022Idx,x,y,RED,2.8);
  g.append("rect").attr("x",401).attr("y",1960.7).attr("width",32).attr("height",16).attr("fill","url(#btn)").attr("stroke","#c0c0c0").attr("stroke-width",0.5);
  T(g,405,1969,"年",{fs:11.5,fill:"#222"});
  g.append("path").attr("d","M421,1967 L428,1967 L424.5,1971 Z").attr("fill","#444");
  g.append("rect").attr("x",354).attr("y",2028).attr("width",64).attr("height",15.5).attr("fill","url(#btn)").attr("stroke","#c0c0c0").attr("stroke-width",0.5);
  T(g,358,2036,"指标名称",{fs:11.5,fill:"#222"});
  g.append("path").attr("d","M406,2034 L413,2034 L409.5,2038 Z").attr("fill","#444");
  leg(g,404,430,1989,BLUE,"2018年",11.5,"#808080",3.2,431);
  leg(g,468,494,1989,ORANGE,"2019年",11.5,"#808080",3.2,496);
  leg(g,532,558,1989,GRAY,"2020年",11.5,"#808080",3.2,561);
  leg(g,404,430,2009,YELLOW,"2021年",11.5,"#808080",3.2,431);
  leg(g,468,494,2009,RED,"2022年",11.5,"#808080",3.2,496);
}

// ---------- footer ----------
const gF=svg.append("g");
gF.append("rect").attr("x",5).attr("y",2077).attr("width",646).attr("height",141).attr("fill","#fff");
L(gF,5,2077,651,2077,"#000",1.5);
disclaimer.forEach((s,i)=>T(gF,9,2093.5+i*15.7,s,i<3?{fs:12,fw:700,tl:636}:{fs:12,fw:700,ls:2.6}));
L(gF,5,2157,651,2157,"#000",1.5);
license.forEach((s,i)=>T(gF,9,2172+i*15.6,s,{fs:12,ls:1}));

// outer gold frame
svg.append("rect").attr("x",2.5).attr("y",2).attr("width",651).attr("height",2218.5).attr("fill","none").attr("stroke","#bf9000").attr("stroke-width",5);
svg.append("rect").attr("x",5).attr("y",4.5).attr("width",646).attr("height",2213.5).attr("fill","none").attr("stroke","#000").attr("stroke-width",1);
</script></body></html>
